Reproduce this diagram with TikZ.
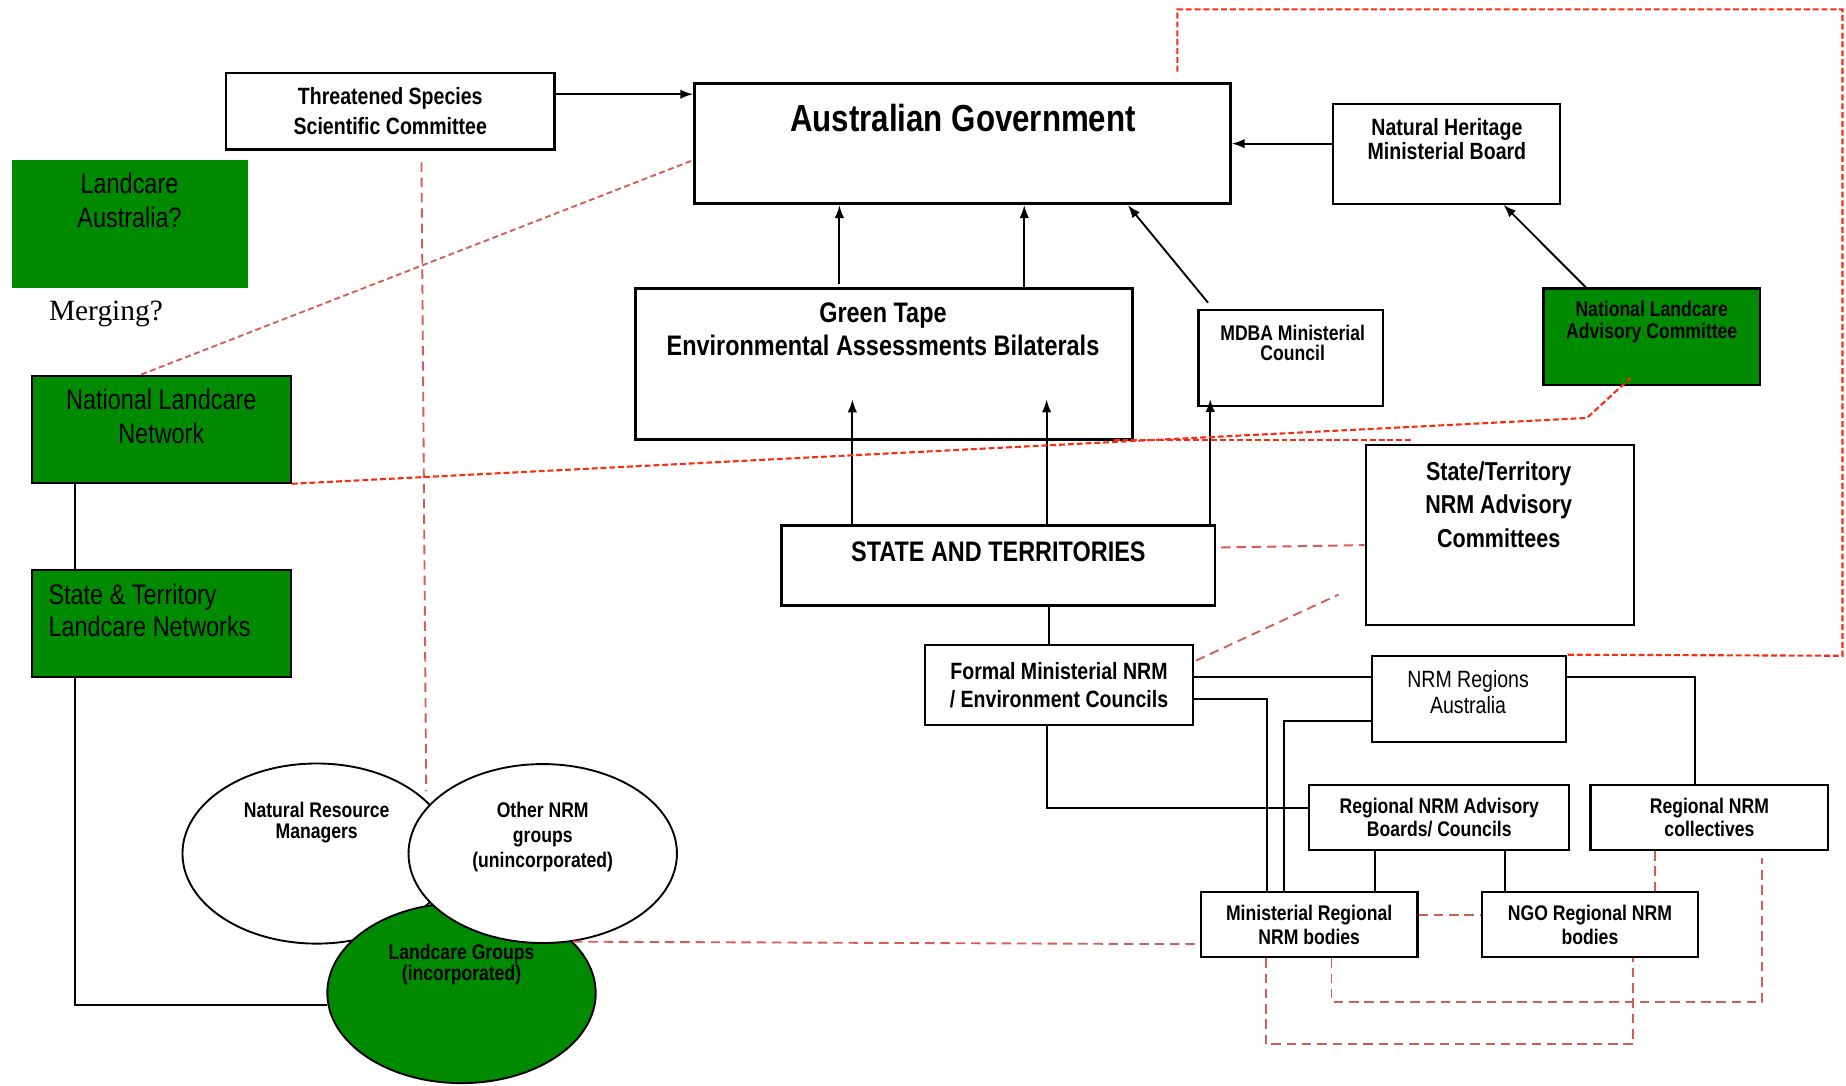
\documentclass[tikz,border=0pt]{standalone}
\usepackage{fontspec}
\setmainfont{Liberation Sans}[FakeStretch=0.83]
\newfontfamily\mergefont{Liberation Serif}
\usetikzlibrary{arrows.meta, shapes.geometric, calc, backgrounds}
\definecolor{landgreen}{RGB}{0,138,0}
\definecolor{hotred}{RGB}{250,45,20}
\definecolor{softred}{RGB}{214,92,86}
\newcommand\fsz[2]{\fontsize{#1}{#2}\selectfont}

\begin{document}
\begin{tikzpicture}[x=1pt, y=-1pt,
    box/.style={draw, line width=1.8pt, inner sep=0pt, align=center, font=\bfseries\fsz{18}{20}},
    greenbox/.style={box, fill=landgreen},
    blob/.style={ellipse, draw, line width=1.6pt, fill=white, inner sep=0pt, minimum width=228pt, minimum height=153pt},
    lbl/.style={inner sep=0pt, align=center},
    arr/.style={line width=1.6pt, -{Latex[length=11pt,width=8pt]}},
    link/.style={line width=1.7pt},
    hotdash/.style={hotred, line width=1.8pt, dash pattern=on 5pt off 2.5pt},
    softdash/.style={softred, line width=1.6pt, dash pattern=on 8pt off 5pt},
    softdot/.style={softred, line width=1.6pt, dash pattern=on 5pt off 3pt}]
  \useasboundingbox (0,0) rectangle (1568,922);

  % commonwealth level
  \node[box, minimum width=279pt, minimum height=65pt, font=\bfseries\fsz{20}{25}] (tssc) at (331.5,94.5) {Threatened Species\\Scientific Committee};
  \node[box, line width=2.4pt, minimum width=455pt, minimum height=102pt] (ausgov) at (817.5,122) {};
  \node[lbl, font=\bfseries\fsz{32}{36}] (ausgov-t) at (818,100) {Australian Government};
  \node[box, minimum width=193pt, minimum height=85pt] (nhmb) at (1228.5,130.5) {};
  \node[lbl, font=\bfseries\fsz{20}{20}] (nhmb-t) at (1229,118) {Natural Heritage\\Ministerial Board};
  \node[box, line width=2.4pt, minimum width=422pt, minimum height=128pt] (gtape) at (751,309) {};
  \node[lbl, font=\bfseries\fsz{24}{28}] (gtape-t) at (750,280) {Green Tape\\Environmental Assessments Bilaterals};
  \node[box, minimum width=157pt, minimum height=82pt] (mdba) at (1096.5,304) {};
  \node[lbl, font=\bfseries\fsz{18}{17}] (mdba-t) at (1098,291.5) {MDBA Ministerial\\Council};
  \node[greenbox, minimum width=184pt, minimum height=82pt] (nlac) at (1403,286) {};
  \node[lbl, font=\bfseries\fsz{18}{19}] (nlac-t) at (1403,273.5) {National Landcare\\Advisory Committee};

  % landcare side
  \node[greenbox, draw=none, minimum width=201pt, minimum height=109pt] (lcaus) at (110.5,190.5) {};
  \node[lbl, font=\fsz{24}{29}] (lcaus-t) at (110,170) {Landcare\\Australia?};
  \node[lbl, font=\mergefont\fsz{25}{30}] (merge) at (90,267) {Merging?};
  \node[greenbox, minimum width=220pt, minimum height=91pt] (nln) at (137,364.5) {};
  \node[lbl, font=\fsz{24}{29}] (nln-t) at (137,353.5) {National Landcare\\Network};
  \node[greenbox, minimum width=220pt, minimum height=91pt] (stln) at (137,529.5) {};
  \node[lbl, anchor=west, align=left, font=\fsz{24}{27}] (stln-t) at (41,518.5) {State \& Territory\\Landcare Networks};

  % state level
  \node[box, line width=2.4pt, minimum width=368pt, minimum height=68pt] (states) at (848,480) {};
  \node[lbl, font=\bfseries\fsz{24}{28}] (states-t) at (848,469) {STATE AND TERRITORIES};
  \node[box, minimum width=228pt, minimum height=153pt] (stnac) at (1274,454.5) {};
  \node[lbl, font=\bfseries\fsz{22}{28.5}] (stnac-t) at (1273,428.5) {State/Territory\\NRM Advisory\\Committees};
  \node[box, minimum width=227pt, minimum height=68pt, font=\bfseries\fsz{20}{23}] (fmin) at (899.5,582) {Formal Ministerial NRM\\/ Environment Councils};
  \node[box, fill=white, minimum width=165pt, minimum height=73pt] (nrmra) at (1247.5,593.5) {};
  \node[lbl, font=\fsz{20}{22}] (nrmra-t) at (1247,588) {NRM Regions\\Australia};

  % regional level
  \node[box, minimum width=221pt, minimum height=55pt] (rab) at (1222.5,694.5) {Regional NRM Advisory\\Boards/ Councils};
  \node[box, minimum width=202pt, minimum height=55pt] (rnc) at (1452,694.5) {Regional NRM\\collectives};
  \node[box, minimum width=184pt, minimum height=55pt] (mrb) at (1112,785.5) {Ministerial Regional\\NRM bodies};
  \node[box, minimum width=183pt, minimum height=55pt] (ngo) at (1350.5,785.5) {NGO Regional NRM\\bodies};

  % community groups
  \node[blob] (nrmgr) at (269,725) {};
  \node[blob, fill=landgreen] (lgroup) at (392,843.5) {};
  \node[blob, minimum height=152pt] (onrm) at (461,725) {};
  \node[lbl, font=\bfseries\fsz{18}{18}] (nrmgr-t) at (269,699) {Natural Resource\\Managers};
  \node[lbl, font=\bfseries\fsz{18}{21.5}] (onrm-t) at (461,711) {Other NRM\\groups\\(unincorporated)};
  \node[lbl, font=\bfseries\fsz{18}{18}] (lgroup-t) at (392,819) {Landcare Groups\\(incorporated)};

  % arrows into government
  \draw[arr] (tssc.east |- 0,80) -- (ausgov.west |- 0,80);
  \draw[arr] (nhmb.west |- 0,122) -- (ausgov.east |- 0,122);
  \draw[arr] (713,241) -- (ausgov.south -| 713,0);
  \draw[arr] (gtape.north -| 870,0) -- (ausgov.south -| 870,0);
  \draw[arr] ($(mdba.north west)+(9,-5)$) -- (ausgov.south -| 958,0);
  \draw[arr] (nlac.north -| 1347,0) -- (nhmb.south -| 1277,0);
  \draw[arr] (states.north -| 724,0) -- ($(gtape.south -| 724,0)+(0,-35)$);
  \draw[arr] (states.north -| 889,0) -- ($(gtape.south -| 889,0)+(0,-35)$);
  \draw[arr] (states.north -| 1028,0) -- ($(mdba.south -| 1028,0)+(0,-7)$);

  % solid links
  \draw[link] (states.south -| 891,0) -- (fmin.north -| 891,0);
  \begin{scope}[on background layer]
    \draw[link] (fmin.east |- 0,575) -- (1440,575) -- (rnc.north -| 1440,0);
  \end{scope}
  \draw[link] (fmin.east |- 0,594) -| (mrb.north -| 1076,0);
  \draw[link] (nrmra.west |- 0,612) -| (mrb.north -| 1091,0);
  \draw[link] (fmin.south -| 889,0) |- (rab.west |- 0,686);
  \draw[link] (rab.south -| 1168,0) -- (mrb.north -| 1168,0);
  \draw[link] (rab.south -| 1278,0) -- (ngo.north -| 1278,0);
  \draw[link] (nln.south -| 64,0) -- (stln.north -| 64,0);
  \draw[link] (stln.south -| 64,0) |- (lgroup.185);

  % dashed links
  \coordinate (vend) at (362,672);
  \coordinate (nlbend) at (1348,355);
  \coordinate (hl-a) at (946,374);
  \coordinate (hl-b) at (1200,374);
  \coordinate (stnac-near) at (1137,505);
  \draw[softdot] (nln.north -| 120,0) -- (ausgov.west |- 596,136);
  \draw[softdash] ($(tssc.south -| 358,0)+(0,10)$) -- (vend);
  \draw[hotdash] (nln.south east) -- (nlbend) -- ($(nlac.south -| 1385,0)+(0,-7)$);
  \draw[hotdash] (hl-a) -- (hl-b);
  \draw[hotdash] ($(ausgov.north -| 1000,0)+(0,-9)$) -- (1000,8) -- (1565,8) -- (1565,557) -- (nrmra.north east);
  \draw[softdash] ($(states.east |- 0,465)+(4,0)$) -- (stnac.west |- 0,463);
  \draw[softdash] ($(fmin.north east)+(2,14)$) -- (stnac-near);
  \draw[softdash] (mrb.east |- 0,777) -- (ngo.west |- 0,777);
  \draw[softdash] (rnc.south -| 1406,0) -- (ngo.north -| 1406,0);
  \draw[softdash] (mrb.south -| 1131,0) |- (1497,851) -- ($(rnc.south -| 1497,0)+(0,6)$);
  \draw[softdash] (mrb.south -| 1075,0) |- (1387,887) -- (ngo.south -| 1387,0);
  \draw[softdash] (onrm.289) -- (mrb.west |- 0,802);
\end{tikzpicture}
\end{document}
